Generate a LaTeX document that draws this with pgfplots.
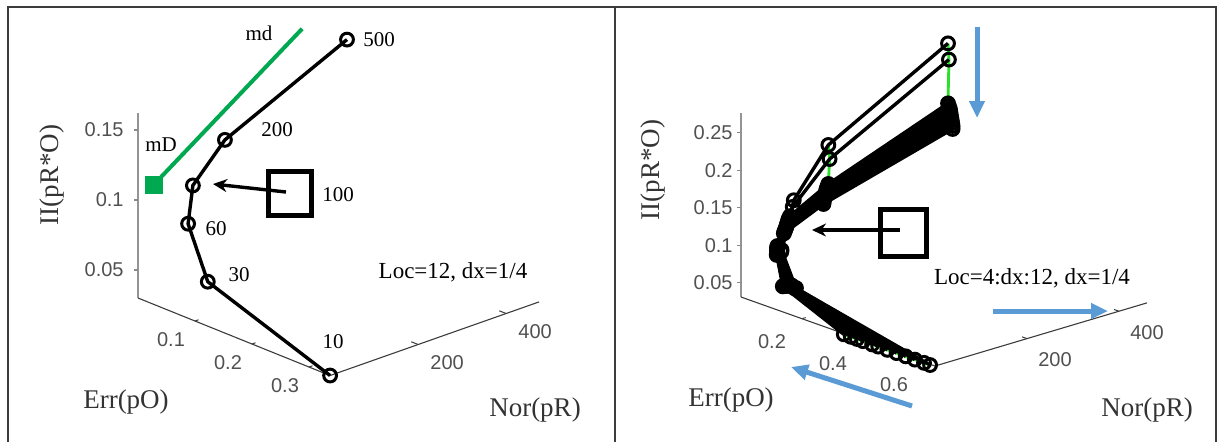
\documentclass[border=0pt]{standalone}
\usepackage{fontspec}
\setmainfont{Liberation Serif}
\newfontfamily\tickfont{Liberation Sans}
\usepackage{pgfplots}
\pgfplotsset{compat=1.18}
\usetikzlibrary{arrows.meta}
\definecolor{mdgreen}{RGB}{0,168,80}
\definecolor{lime}{RGB}{40,225,40}
\definecolor{arrblue}{RGB}{91,155,213}
\definecolor{axgray}{RGB}{60,60,60}
\definecolor{tkgray}{RGB}{80,80,80}

\pgfplotsset{
  panel/.style={hide axis, clip=false, anchor=origin, disabledatascaling},
  crv/.style={black, line width=1.7pt, mark=o, mark size=3.2pt,
              mark options={line width=1.5pt, solid}},
  grn/.style={lime, line width=1.4pt, no marks},
}
\tikzset{tk/.style={font=\tickfont\fontsize{10}{11}\selectfont, text=tkgray, inner sep=0pt}}

\begin{document}
\begin{tikzpicture}
\useasboundingbox (0,0) rectangle (610pt,-220.5pt);

% ---------------- left panel: Loc=12 -----------------------------
\begin{axis}[panel, at={(69pt,-170pt)},
  x={(0.22pt,0.0775pt)}, y={(285pt,-115pt)}, z={(0pt,700pt)},
  xmin=0, xmax=475, ymin=0, ymax=0.337, zmin=0, zmax=0.17]
\draw[axgray!55, line width=1pt] (axis cs:0,0,0.03) -- (axis cs:0,0,0.162);
\draw[axgray, line width=0.55pt] (axis cs:0,0,0.03) -- (axis cs:0,0.337,0.03) -- (axis cs:475,0.337,0.03);
\pgfplotsinvokeforeach{0.05,0.1,0.15}{
  \draw[axgray!60, line width=0.6pt] (axis cs:0,0,#1) -- ++(-1.8pt,0);
  \node[tk, anchor=east] at ([xshift=-7pt]axis cs:0,0,#1) {#1};}
\pgfplotsinvokeforeach{0.1,0.2,0.3}{
  \draw[axgray, line width=0.5pt] (axis cs:0,#1,0.03) -- (axis cs:8,#1,0.03);
  \node[tk] at ([xshift=-12pt,yshift=-9.5pt]axis cs:0,#1,0.03) {#1};}
\pgfplotsinvokeforeach{200,400}{
  \draw[axgray, line width=0.5pt] (axis cs:#1,0.337,0.03) -- (axis cs:#1,0.325,0.03);
  \node[tk] at ([xshift=14.5pt,yshift=-9pt]axis cs:#1,0.337,0.03) {#1};}

% md -- mD
\addplot3[mdgreen, line width=2pt] coordinates {(36,0,0.107) (373,0,0.181)};
\addplot3[mdgreen, only marks, mark=square*, mark size=4.3pt] coordinates {(36,0,0.107)};
% trajectory 10, 30, 60, 100, 200, 500
\addplot3[crv] coordinates {(0,0.337,0.03) (20,0.107,0.057) (40,0.057,0.088)
  (60,0.050,0.112) (160,0.029,0.130) (475,0,0.162)};
\end{axis}

% ---------------- right panel: Loc=4:dx:12 -----------------------
\begin{axis}[panel, at={(370.5pt,-160.125pt)},
  x={(0.23pt,0.0685pt)}, y={(152.5pt,-54.25pt)}, z={(0pt,375pt)},
  xmin=0, xmax=461, ymin=0, ymax=0.636, zmin=0, zmax=0.29]
\draw[axgray!55, line width=1pt] (axis cs:0,0,0.031) -- (axis cs:0,0,0.277);
\draw[axgray, line width=0.55pt] (axis cs:0,0,0.031) -- (axis cs:0,0.636,0.031) -- (axis cs:461,0.636,0.031);
\pgfplotsinvokeforeach{0.05,0.1,0.15,0.2,0.25}{
  \draw[axgray!60, line width=0.6pt] (axis cs:0,0,#1) -- ++(-1.8pt,0);
  \node[tk, anchor=east] at ([xshift=-4pt]axis cs:0,0,#1) {#1};}
\pgfplotsinvokeforeach{0.2,0.4,0.6}{
  \draw[axgray, line width=0.5pt] (axis cs:0,#1,0.031) -- (axis cs:8,#1,0.031);
  \node[tk] at ([xshift=-15pt,yshift=-11.5pt]axis cs:0,#1,0.031) {#1};}
\pgfplotsinvokeforeach{200,400}{
  \draw[axgray, line width=0.5pt] (axis cs:#1,0.636,0.031) -- (axis cs:#1,0.62,0.031);
  \node[tk] at ([xshift=14pt,yshift=-10.5pt]axis cs:#1,0.636,0.031) {#1};}

% green links between the same step of neighbouring Loc values
\addplot3[grn] coordinates {(0,0.62,0.03) (0,0.60,0.03) (0,0.57,0.03) (0,0.54,0.03) (0,0.51,0.03) (0,0.48,0.03)
  (0,0.45,0.03) (0,0.43,0.03) (0,0.40,0.03) (0,0.38,0.03) (0,0.36,0.03) (0,0.337,0.03)};
\addplot3[grn] coordinates {(20,0.15,0.061) (20,0.145,0.060) (21,0.135,0.062) (20,0.130,0.061) (20,0.126,0.061)
  (21,0.122,0.060) (20,0.119,0.060) (20,0.116,0.059) (20,0.113,0.059) (20,0.111,0.058) (20,0.109,0.058) (20,0.107,0.057)};
\addplot3[grn] coordinates {(35,0.08,0.099) (36,0.078,0.096) (38,0.062,0.101) (38,0.061,0.099) (39,0.060,0.097)
  (39,0.060,0.096) (39,0.059,0.094) (40,0.059,0.093) (40,0.058,0.091) (40,0.058,0.090) (40,0.057,0.089) (40,0.057,0.088)};
\addplot3[grn] coordinates {(75,0.06,0.155) (74,0.058,0.146) (70,0.055,0.134) (68,0.054,0.131) (67,0.053,0.128)
  (66,0.053,0.125) (65,0.052,0.123) (64,0.052,0.120) (63,0.051,0.118) (62,0.051,0.116) (61,0.050,0.114) (60,0.050,0.112)};
\addplot3[grn] coordinates {(170,0.03,0.207) (172,0.031,0.188) (170,0.030,0.155) (168,0.030,0.152) (166,0.030,0.149)
  (165,0.030,0.146) (164,0.030,0.143) (163,0.029,0.140) (162,0.029,0.137) (161,0.029,0.135) (160,0.029,0.132) (160,0.029,0.130)};
\addplot3[grn] coordinates {(450,0,0.287) (452,0,0.265) (450,0,0.207) (452,0,0.203) (454,0,0.199) (455,0,0.195)
  (456,0,0.191) (457,0,0.187) (458,0,0.183) (459,0,0.179) (460,0,0.175) (460,0,0.171)};

% trajectories, Loc=12 first, Loc=4 last
\addplot3[crv] coordinates {(0,0.337,0.03) (20,0.107,0.057) (40,0.057,0.088) (60,0.050,0.112) (160,0.029,0.130) (460,0,0.171)};
\addplot3[crv] coordinates {(0,0.36,0.03) (20,0.109,0.058) (40,0.057,0.089) (61,0.050,0.114) (160,0.029,0.132) (460,0,0.175)};
\addplot3[crv] coordinates {(0,0.38,0.03) (20,0.111,0.058) (40,0.058,0.090) (62,0.051,0.116) (161,0.029,0.135) (459,0,0.179)};
\addplot3[crv] coordinates {(0,0.40,0.03) (20,0.113,0.059) (40,0.058,0.091) (63,0.051,0.118) (162,0.029,0.137) (458,0,0.183)};
\addplot3[crv] coordinates {(0,0.43,0.03) (20,0.116,0.059) (40,0.059,0.093) (64,0.052,0.120) (163,0.029,0.140) (457,0,0.187)};
\addplot3[crv] coordinates {(0,0.45,0.03) (20,0.119,0.060) (39,0.059,0.094) (65,0.052,0.123) (164,0.030,0.143) (456,0,0.191)};
\addplot3[crv] coordinates {(0,0.48,0.03) (21,0.122,0.060) (39,0.060,0.096) (66,0.053,0.125) (165,0.030,0.146) (455,0,0.195)};
\addplot3[crv] coordinates {(0,0.51,0.03) (20,0.126,0.061) (39,0.060,0.097) (67,0.053,0.128) (166,0.030,0.149) (454,0,0.199)};
\addplot3[crv] coordinates {(0,0.54,0.03) (20,0.130,0.061) (38,0.061,0.099) (68,0.054,0.131) (168,0.030,0.152) (452,0,0.203)};
\addplot3[crv] coordinates {(0,0.57,0.03) (21,0.135,0.062) (38,0.062,0.101) (70,0.055,0.134) (170,0.030,0.155) (450,0,0.207)};
\addplot3[crv] coordinates {(0,0.60,0.03) (20,0.145,0.060) (36,0.078,0.096) (74,0.058,0.146) (172,0.031,0.188) (452,0,0.265)};
\addplot3[crv] coordinates {(0,0.62,0.03) (20,0.15,0.061) (35,0.08,0.099) (75,0.06,0.155) (170,0.03,0.207) (450,0,0.287)};
\end{axis}

% ---------------- frame, labels, annotations (pixel grid) ----------
\begin{scope}[x=0.5pt, y=-0.5pt]
\draw[axgray, line width=0.6pt] (8,7) rectangle (1216,448);
\draw[axgray, line width=0.6pt] (615,7) -- (615,448);

\begin{scope}[font=\fontsize{13.5}{15}\selectfont, text=black!80]
\node[rotate=90] at (52,175) {II(pR*O)};
\node at (126,402) {Err(pO)};
\node at (535,410) {Nor(pR)};
\node[rotate=90] at (653,170) {II(pR*O)};
\node at (731,400) {Err(pO)};
\node at (1147,410) {Nor(pR)};
\end{scope}

\begin{scope}[font=\fontsize{10.5}{12}\selectfont]
\node at (379,40) {500};
\node at (277,130) {200};
\node at (338,195) {100};
\node at (216,229) {60};
\node at (239,275) {30};
\node at (333,342) {10};
\node at (259,33) {md};
\node at (161,145) {mD};
\end{scope}

\node[font=\fontsize{11.5}{13}\selectfont] at (453,272) {Loc=12, dx=1/4};
\node[font=\fontsize{11.5}{13}\selectfont] at (1032,278) {Loc=4:dx:12, dx=1/4};

\draw[black, line width=2.5pt] (268,171) rectangle (311,215);
\draw[black, line width=1.7pt, -{Stealth[length=7pt,width=6.5pt]}] (286,192) -- (213,184);
\draw[black, line width=2.5pt] (880,209) rectangle (926,256);
\draw[black, line width=1.7pt, -{Stealth[length=7pt,width=6.5pt]}] (900,230) -- (812,230);

\begin{scope}[arrblue, line width=2.5pt, -{Triangle[length=8.5pt,width=7.5pt]}]
\draw (977,27) -- (977,118);
\draw (993,311) -- (1108,311);
\draw (912,406) -- (791,367);
\end{scope}
\end{scope}
\end{tikzpicture}
\end{document}
